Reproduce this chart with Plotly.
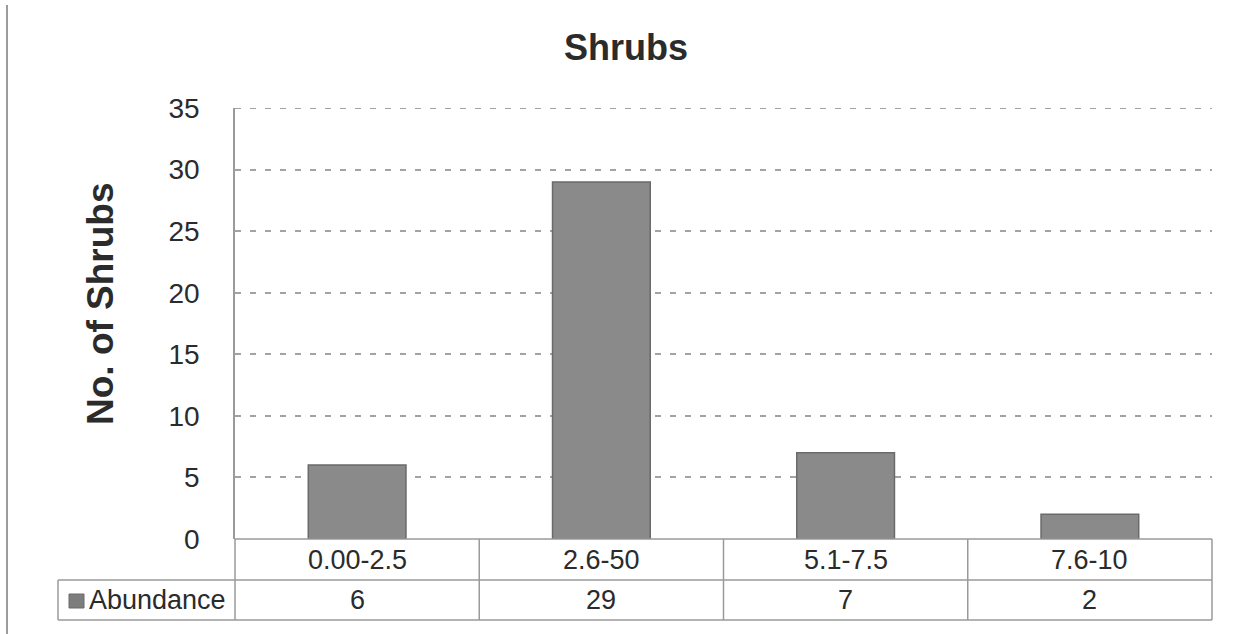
import plotly.graph_objects as go

# Shrub abundance per size class
categories = ["0.00-2.5", "2.6-50", "5.1-7.5", "7.6-10"]
abundance = [6, 29, 7, 2]
series_name = "Abundance"
y_ticks = [0, 5, 10, 15, 20, 25, 30, 35]

FONT = "Liberation Sans, Arial, sans-serif"
TEXT = "#2b2b2b"
GRID = "#a3a3a3"
TABLE = "#9a9a9a"

W, H = 1236, 634
L, R, T, B = 235, 24, 108, 95
pw, ph = W - L - R, H - T - B


def px_x(p):
    return (p - L) / pw


def px_y(p):
    return (H - B - p) / ph


xi = list(range(len(categories)))

fig = go.Figure(
    go.Bar(
        x=xi,
        y=abundance,
        width=0.4,
        marker=dict(color="#8a8a8a", line=dict(color="#6a6a6a", width=1.5)),
        showlegend=False,
        hoverinfo="skip",
    )
)

row1_bot = px_y(580)
row2_bot = px_y(620)
leg_left = px_x(58)

shapes = []
# outer left rule
shapes.append(dict(type="line", xref="paper", yref="paper", x0=px_x(7), x1=px_x(7),
                   y0=px_y(5), y1=px_y(634), line=dict(color="#9c9c9c", width=2)))
# top gridline at the range edge
shapes.append(dict(type="line", xref="paper", yref="y", x0=0, x1=1, y0=35, y1=35,
                   line=dict(color=GRID, width=2, dash="6px,9px")))
# data table grid
shapes.append(dict(type="line", xref="paper", yref="paper", x0=0, x1=1, y0=0, y1=0,
                   line=dict(color=TABLE, width=1.5)))
shapes.append(dict(type="line", xref="paper", yref="paper", x0=leg_left, x1=1,
                   y0=row1_bot, y1=row1_bot, line=dict(color=TABLE, width=1.5)))
shapes.append(dict(type="line", xref="paper", yref="paper", x0=leg_left, x1=1,
                   y0=row2_bot, y1=row2_bot, line=dict(color=TABLE, width=1.5)))
shapes.append(dict(type="line", xref="paper", yref="paper", x0=leg_left, x1=leg_left,
                   y0=row1_bot, y1=row2_bot, line=dict(color=TABLE, width=1.5)))
shapes.append(dict(type="line", xref="paper", yref="paper", x0=0, x1=0,
                   y0=0, y1=row2_bot, line=dict(color=TABLE, width=1.5)))
shapes.append(dict(type="line", xref="paper", yref="paper", x0=1, x1=1,
                   y0=0, y1=row2_bot, line=dict(color=TABLE, width=1.5)))
for i in range(1, len(categories)):
    shapes.append(dict(type="line", xref="x", yref="paper", x0=i - 0.5, x1=i - 0.5,
                       y0=0, y1=row2_bot, line=dict(color=TABLE, width=1.5)))
# legend key swatch
shapes.append(dict(type="rect", xref="paper", yref="paper", x0=px_x(69), x1=px_x(84),
                   y0=px_y(608), y1=px_y(594), fillcolor="#7d7d7d",
                   line=dict(color="#6a6a6a", width=1)))

annotations = []
for i, (c, v) in enumerate(zip(categories, abundance)):
    annotations.append(dict(x=i, y=(0 + row1_bot) / 2, xref="x", yref="paper", text=c,
                            yanchor="middle", showarrow=False,
                            font=dict(family=FONT, size=27, color=TEXT)))
    annotations.append(dict(x=i, y=(row1_bot + row2_bot) / 2, xref="x", yref="paper",
                            text=str(v), yanchor="middle", showarrow=False,
                            font=dict(family=FONT, size=27, color=TEXT)))
annotations.append(dict(x=px_x(87), y=(row1_bot + row2_bot) / 2, xref="paper", yref="paper",
                        text=series_name, showarrow=False, xanchor="left", yanchor="middle",
                        font=dict(family=FONT, size=27, color=TEXT)))
annotations.append(dict(x=px_x(100), y=px_y(304), xref="paper", yref="paper",
                        text="<b>No. of Shrubs</b>", textangle=-90, showarrow=False,
                        xanchor="center", yanchor="middle",
                        font=dict(family=FONT, size=37, color=TEXT)))

fig.update_layout(
    width=W, height=H,
    margin=dict(l=L, r=R, t=T, b=B),
    paper_bgcolor="white", plot_bgcolor="white",
    title=dict(text="<b>Shrubs</b>", x=626 / W, xref="container", xanchor="center",
               y=1 - 47 / H, yref="container", yanchor="middle",
               font=dict(family=FONT, size=36, color=TEXT)),
    xaxis=dict(range=[-0.5, len(categories) - 0.5], showticklabels=False, showgrid=False,
               zeroline=False, showline=False, fixedrange=True),
    yaxis=dict(range=[0, 35], tickvals=y_ticks, showgrid=True, gridcolor=GRID,
               gridwidth=2, griddash="6px,9px", zeroline=False, showline=True,
               linecolor=TABLE, linewidth=1.5, ticks="", ticklabelstandoff=28,
               tickfont=dict(family=FONT, size=28, color=TEXT)),
    shapes=shapes,
    annotations=annotations,
    showlegend=False,
)

fig.write_html("out.html")
